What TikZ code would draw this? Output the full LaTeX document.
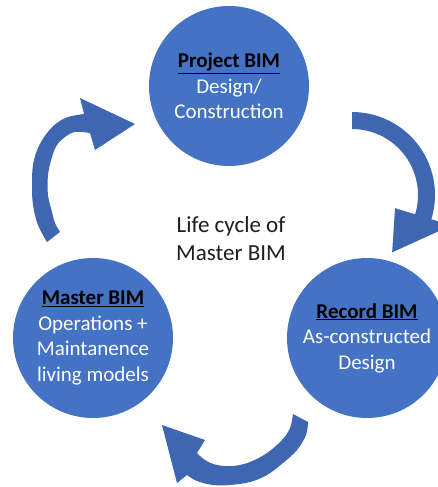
\documentclass[tikz,border=0pt]{standalone}
\usepackage{fontspec}
\setmainfont{Carlito}
\begin{document}
\begin{tikzpicture}[x=1pt,y=-1pt]
\definecolor{stageblue}{RGB}{68,114,196}
\definecolor{flowblue}{RGB}{63,102,176}
\tikzset{
  stage/.style={circle, fill=stageblue, minimum size=160pt, inner sep=0pt,
    align=center, text=white, font=\fontsize{21}{25.5}\selectfont},
  flow/.style={fill=flowblue},
}
\useasboundingbox (0,0) rectangle (438,487);
\clip (0,0) rectangle (438,487);

% lifecycle stages
\node[stage] (proj) at (229,86)
  {\textcolor{black}{\bfseries\underline{Project BIM}}\\Design/\\Construction};
\node[stage] (rec) at (367,338)
  {\textcolor{black}{\bfseries\underline{Record BIM}}\\As-constructed\\Design};
\node[stage] (mast) at (93,338)
  {\textcolor{black}{\bfseries\underline{Master BIM}}\\Operations +\\Maintanence\\living models};

\node[align=center, font=\fontsize{23}{28}\selectfont, text={rgb,255:red,30;green,30;blue,30}]
  (title) at (231,239) {Life cycle of\\Master BIM};

% curved arrow: project -> record
\fill[flow]
  plot[domain=-90:17,samples=40] ({352+83*cos(\x)},{195+83*sin(\x)})
  -- ({352+104*cos(17)},{195+104*sin(17)})
  -- ({352+70*cos(55)},{195+70*sin(55)})
  -- ({352+45*cos(17)},{195+45*sin(17)})
  -- plot[domain=17:-90,samples=40] ({352+66*cos(\x)},{195+66*sin(\x)})
  -- cycle;

% curved arrow: record -> master
\fill[flow]
  plot[smooth,tension=0.6] coordinates {(308,422) (306,435) (297,450) (283,463) (267,475)
    (250,482) (230,485) (213,485) (197,481) (187,475)}
  -- (177,483) -- (162,425) -- (205,440) -- (197,453)
  -- plot[smooth,tension=0.6] coordinates {(197,453) (205,460) (217,465) (233,466)
    (250,462) (267,453) (282,440) (290,428) (293,414)}
  -- cycle;

% curved arrow: master -> project
\fill[flow]
  plot[smooth,tension=0.6] coordinates {(47,242) (38,225) (33,205) (32,185) (33,165)
    (38,148) (47,133) (57,123) (68,117) (84,114)}
  -- (80,98) -- (135,124) -- (95,150) -- (90,133)
  -- plot[smooth,tension=0.6] coordinates {(90,133) (75,132) (65,137) (57,145) (52,157)
    (48,175) (48,195) (52,212) (55,223) (60,232)}
  -- cycle;
\end{tikzpicture}
\end{document}
